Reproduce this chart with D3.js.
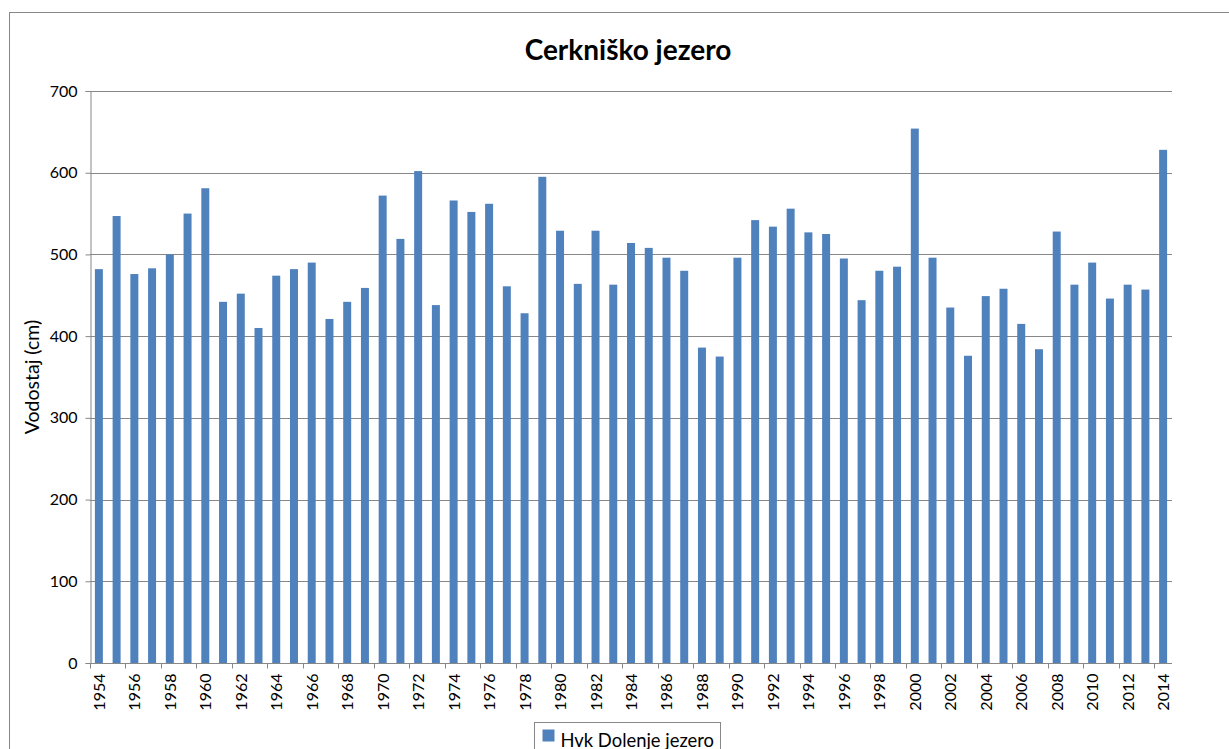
<!DOCTYPE html>
<html>
<head>
<meta charset="utf-8">
<script src="https://cdn.jsdelivr.net/npm/d3@7"></script>
<style>
  body { margin: 0; background: #fff; }
  svg { display: block; font-family: Lato, "Open Sans", sans-serif; }
</style>
</head>
<body>
<svg></svg>
<script>
const WIDTH = 1229;
const HEIGHT = 749;
const MARGINS = { left: 90, top: 91, right: 57, bottom: 86 };
const graphWidth = WIDTH - MARGINS.left - MARGINS.right;
const graphHeight = HEIGHT - MARGINS.top - MARGINS.bottom;

const title = 'Cerkniško jezero';
const yTitle = 'Vodostaj (cm)';
const seriesName = 'Hvk Dolenje jezero';
const years = d3.range(1954, 2015);
const levels = [
  482, 547, 476, 483, 500, 550, 581, 442, 452, 410,
  474, 482, 490, 421, 442, 459, 572, 519, 602, 438,
  566, 552, 562, 461, 428, 595, 529, 464, 529, 463,
  514, 508, 496, 480, 386, 375, 496, 542, 534, 556,
  527, 525, 495, 444, 480, 485, 654, 496, 435, 376,
  449, 458, 415, 384, 528, 463, 490, 446, 463, 457,
  628
];
const yTicks = [0, 100, 200, 300, 400, 500, 600, 700];

const data = years.map((year, i) => ({ year, value: levels[i] }));

const svg = d3.select('svg').attr('width', WIDTH).attr('height', HEIGHT);

// outer chart border (right/bottom are off the picture)
svg.append('rect')
  .attr('x', 9.5).attr('y', 12.5)
  .attr('width', WIDTH).attr('height', HEIGHT)
  .attr('fill', 'none').attr('stroke', '#888');

svg.append('text')
  .attr('x', 628).attr('y', 60)
  .attr('text-anchor', 'middle')
  .attr('font-size', 28).attr('font-weight', 'bold')
  .text(title);

const graph = svg.append('g')
  .attr('transform', `translate(${MARGINS.left}, ${MARGINS.top})`);

const x = d3.scaleBand()
  .domain(years)
  .range([0, graphWidth])
  .paddingInner(0.55)
  .paddingOuter(0.275);

const y = d3.scaleLinear().domain([0, 700]).range([graphHeight, 0]);

// gridlines
graph.append('g')
  .selectAll('line')
  .data(yTicks.filter((t) => t > 0))
  .enter()
  .append('line')
  .attr('x1', 0).attr('x2', graphWidth)
  .attr('y1', (d) => Math.round(y(d)) + 0.5)
  .attr('y2', (d) => Math.round(y(d)) + 0.5)
  .attr('stroke', '#878787');

graph.selectAll('rect.bar')
  .data(data)
  .enter()
  .append('rect')
  .attr('class', 'bar')
  .attr('x', (d) => x(d.year))
  .attr('y', (d) => y(d.value))
  .attr('width', x.bandwidth())
  .attr('height', (d) => graphHeight - y(d.value))
  .attr('fill', '#4F81BD');

// y axis
const yAxisGroup = graph.append('g').attr('transform', 'translate(0.5, 0)');
yAxisGroup.call(d3.axisLeft(y).tickValues(yTicks).tickSize(5).tickPadding(8));
yAxisGroup.select('.domain').attr('stroke', '#878787');
yAxisGroup.selectAll('.tick line').attr('stroke', '#878787');
yAxisGroup.selectAll('.tick text')
  .attr('font-size', 16).attr('font-family', 'Lato, sans-serif').attr('fill', '#000');

// x axis: line, ticks every second category boundary, rotated labels
const xAxisGroup = graph.append('g').attr('transform', `translate(0, ${Math.round(graphHeight) + 0.5})`);
xAxisGroup.append('line')
  .attr('x1', 0).attr('x2', graphWidth)
  .attr('stroke', '#878787');

const labelled = years.filter((yr, i) => i % 2 === 0);
const boundary = (d) => Math.round(x(d) - x.step() * x.paddingInner() / 2) + 0.5;
xAxisGroup.selectAll('line.tick')
  .data(labelled)
  .enter()
  .append('line')
  .attr('class', 'tick')
  .attr('x1', boundary)
  .attr('x2', boundary)
  .attr('y1', 0).attr('y2', 5)
  .attr('stroke', '#878787');

xAxisGroup.selectAll('text')
  .data(labelled)
  .enter()
  .append('text')
  .attr('transform', (d) => `translate(${x(d) + x.bandwidth() / 2 + 6}, 10) rotate(-90)`)
  .attr('text-anchor', 'end')
  .attr('font-size', 16)
  .text((d) => d);

// y title
svg.append('text')
  .attr('transform', 'translate(39, 377) rotate(-90)')
  .attr('text-anchor', 'middle')
  .attr('font-size', 19.5)
  .text(yTitle);

// legend
const legend = svg.append('g').attr('transform', 'translate(534.5, 722.5)');
legend.append('rect')
  .attr('width', 186).attr('height', 40)
  .attr('fill', '#fff').attr('stroke', '#888');
legend.append('rect')
  .attr('x', 8).attr('y', 7).attr('width', 12).attr('height', 12)
  .attr('fill', '#4F81BD');
legend.append('text')
  .attr('x', 26).attr('y', 24)
  .attr('font-size', 18.4)
  .text(seriesName);
</script>
</body>
</html>
